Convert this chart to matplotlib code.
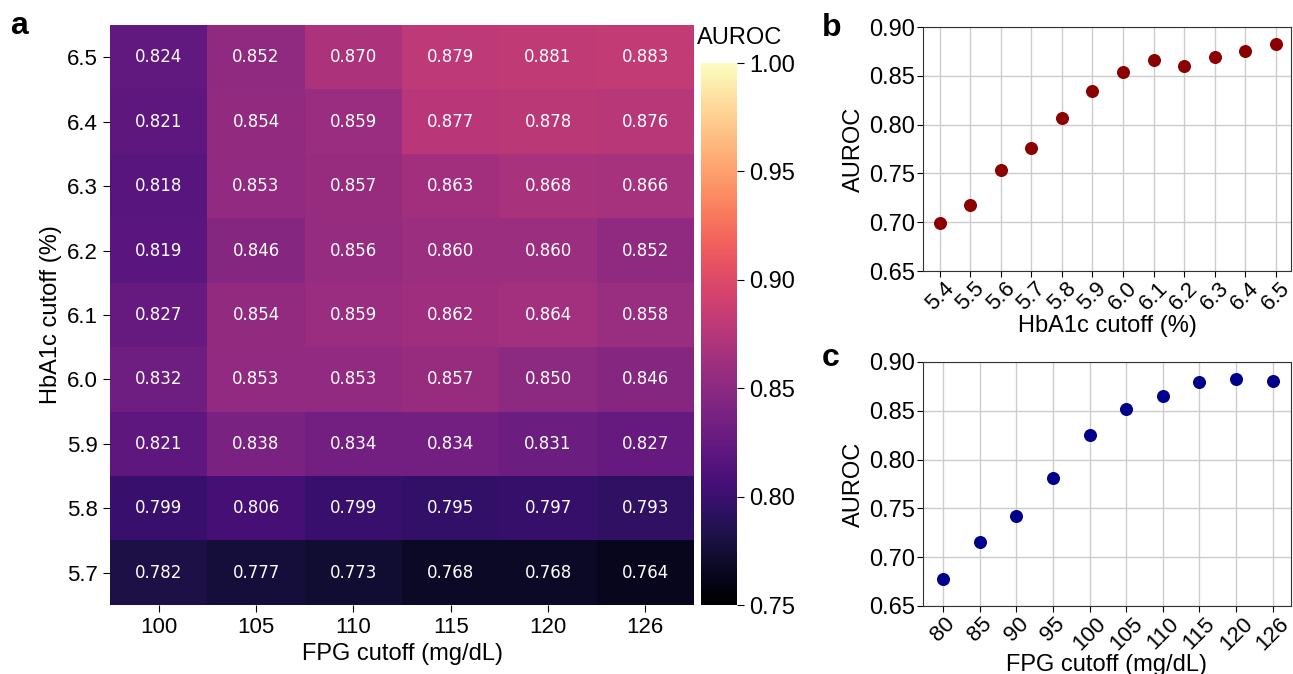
import numpy as np
import matplotlib.pyplot as plt

plt.rcParams['font.family'] = ['Liberation Sans', 'DejaVu Sans']

# heatmap data: rows top->bottom HbA1c 6.5 .. 5.7, columns FPG
fpg_cols = ['100', '105', '110', '115', '120', '126']
hba1c_rows = ['6.5', '6.4', '6.3', '6.2', '6.1', '6.0', '5.9', '5.8', '5.7']
auroc_grid = [
    [0.824, 0.852, 0.870, 0.879, 0.881, 0.883],
    [0.821, 0.854, 0.859, 0.877, 0.878, 0.876],
    [0.818, 0.853, 0.857, 0.863, 0.868, 0.866],
    [0.819, 0.846, 0.856, 0.860, 0.860, 0.852],
    [0.827, 0.854, 0.859, 0.862, 0.864, 0.858],
    [0.832, 0.853, 0.853, 0.857, 0.850, 0.846],
    [0.821, 0.838, 0.834, 0.834, 0.831, 0.827],
    [0.799, 0.806, 0.799, 0.795, 0.797, 0.793],
    [0.782, 0.777, 0.773, 0.768, 0.768, 0.764],
]

# panel b: HbA1c only
hba1c_cut = ['5.4', '5.5', '5.6', '5.7', '5.8', '5.9', '6.0', '6.1', '6.2', '6.3', '6.4', '6.5']
hba1c_auroc = [0.699, 0.718, 0.753, 0.776, 0.807, 0.834, 0.854, 0.866, 0.860, 0.869, 0.875, 0.883]

# panel c: FPG only
fpg_cut = ['80', '85', '90', '95', '100', '105', '110', '115', '120', '126']
fpg_auroc = [0.678, 0.716, 0.742, 0.781, 0.825, 0.852, 0.865, 0.879, 0.883, 0.881]

W, H = 1293, 674
fig = plt.figure(figsize=(W/100, H/100), dpi=100)

def box(x0, y0, x1, y1):
    return [x0/W, 1 - y1/H, (x1-x0)/W, (y1-y0)/H]

LAB = 17

# --- panel a
ax = fig.add_axes(box(110, 25, 694, 605))
data = np.array(auroc_grid)
im = ax.imshow(data, cmap='magma', vmin=0.75, vmax=1.0, aspect='auto')
for i in range(data.shape[0]):
    for j in range(data.shape[1]):
        ax.text(j, i, f'{data[i, j]:.3f}', ha='center', va='center',
                color='white', fontsize=12, family='DejaVu Sans')
ax.set_xticks(range(len(fpg_cols)))
ax.set_xticklabels(fpg_cols)
ax.set_yticks(range(len(hba1c_rows)))
ax.set_yticklabels(hba1c_rows)
ax.tick_params(labelsize=16, length=5)
for s in ax.spines.values():
    s.set_visible(False)
ax.set_xlabel('FPG cutoff (mg/dL)', fontsize=LAB)
ax.set_ylabel('HbA1c cutoff (%)', fontsize=LAB)

cax = fig.add_axes(box(701, 63, 737, 605))
cb = fig.colorbar(im, cax=cax, ticks=[0.75, 0.80, 0.85, 0.90, 0.95, 1.00])
cb.ax.set_yticklabels(['0.75', '0.80', '0.85', '0.90', '0.95', '1.00'])
cb.ax.tick_params(labelsize=17, length=5)
cb.outline.set_visible(False)
fig.text(697/W, 1 - 44/H, 'AUROC', fontsize=LAB)

# --- panels b and c
def dot_panel(a, cuts, vals, color, xlabel):
    a.scatter(range(len(cuts)), vals, s=70, color=color, zorder=3)
    a.set_xticks(range(len(cuts)))
    a.set_xticklabels(cuts, rotation=45, ha='center')
    a.set_xlim(-0.55, len(cuts) - 0.5)
    a.set_ylim(0.65, 0.90)
    a.set_yticks([0.65, 0.70, 0.75, 0.80, 0.85, 0.90])
    a.set_yticklabels(['0.65', '0.70', '0.75', '0.80', '0.85', '0.90'])
    a.grid(True, color='#cccccc', linewidth=1)
    a.tick_params(axis='y', labelsize=17, length=4, pad=2)
    a.tick_params(axis='x', labelsize=16, length=4, pad=1)
    a.set_xlabel(xlabel, fontsize=LAB, labelpad=0)
    a.set_ylabel('AUROC', fontsize=LAB, labelpad=3)
    for s in a.spines.values():
        s.set_color('#333333')

axb = fig.add_axes(box(923, 27, 1291, 271))
dot_panel(axb, hba1c_cut, hba1c_auroc, 'darkred', 'HbA1c cutoff (%)')

axc = fig.add_axes(box(923, 362, 1291, 606))
dot_panel(axc, fpg_cut, fpg_auroc, 'darkblue', 'FPG cutoff (mg/dL)')

fig.text(10/W, 1 - 34/H, 'a', fontsize=23, fontweight='bold')
fig.text(822/W, 1 - 36/H, 'b', fontsize=23, fontweight='bold')
fig.text(822/W, 1 - 366/H, 'c', fontsize=23, fontweight='bold')

plt.savefig('out.png', dpi=100)
